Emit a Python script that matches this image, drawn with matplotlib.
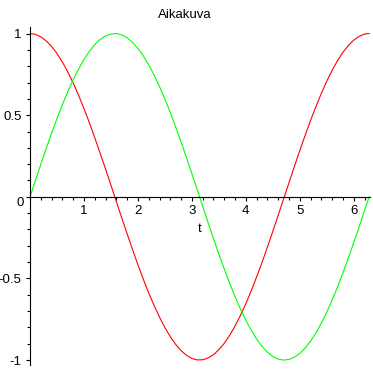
import numpy as np
import matplotlib
matplotlib.use('Agg')
import matplotlib.pyplot as plt
from matplotlib.ticker import MultipleLocator

plt.rcParams['font.family'] = ['Liberation Sans', 'DejaVu Sans']

title = 'Aikakuva'
xlabel = 't'

# values
t = [0.0, 0.1, 0.2, 0.3, 0.4, 0.5, 0.6, 0.7, 0.8, 0.9,
     1.0, 1.1, 1.2, 1.3, 1.4, 1.5, 1.6, 1.7, 1.8, 1.9,
     2.0, 2.1, 2.2, 2.3, 2.4, 2.5, 2.6, 2.7, 2.8, 2.9,
     3.0, 3.1, 3.2, 3.3, 3.4, 3.5, 3.6, 3.7, 3.8, 3.9,
     4.0, 4.1, 4.2, 4.3, 4.4, 4.5, 4.6, 4.7, 4.8, 4.9,
     5.0, 5.1, 5.2, 5.3, 5.4, 5.5, 5.6, 5.7, 5.8, 5.9,
     6.0, 6.1, 6.2, 6.283]

red_curve = [1.000, 0.995, 0.980, 0.955, 0.921, 0.878, 0.825, 0.765, 0.697, 0.622,
             0.540, 0.454, 0.362, 0.267, 0.170, 0.071, -0.029, -0.129, -0.227, -0.323,
             -0.416, -0.505, -0.589, -0.666, -0.737, -0.801, -0.857, -0.904, -0.942, -0.971,
             -0.990, -0.999, -0.998, -0.987, -0.967, -0.936, -0.897, -0.848, -0.791, -0.726,
             -0.654, -0.575, -0.490, -0.401, -0.307, -0.211, -0.112, -0.012, 0.087, 0.187,
             0.284, 0.378, 0.469, 0.554, 0.635, 0.709, 0.776, 0.835, 0.886, 0.927,
             0.960, 0.983, 0.997, 1.000]

green_curve = [0.000, 0.100, 0.199, 0.296, 0.389, 0.479, 0.565, 0.644, 0.717, 0.783,
               0.841, 0.891, 0.932, 0.964, 0.985, 0.997, 1.000, 0.992, 0.974, 0.946,
               0.909, 0.863, 0.808, 0.746, 0.675, 0.598, 0.516, 0.427, 0.335, 0.239,
               0.141, 0.042, -0.058, -0.158, -0.256, -0.351, -0.443, -0.530, -0.612, -0.688,
               -0.757, -0.818, -0.872, -0.916, -0.952, -0.978, -0.994, -1.000, -0.996, -0.982,
               -0.959, -0.926, -0.883, -0.832, -0.773, -0.706, -0.631, -0.551, -0.465, -0.374,
               -0.279, -0.182, -0.083, 0.000]

xticks = [1, 2, 3, 4, 5, 6]
yticks = [1, 0.5, 0, -0.5, -1]
ytick_labels = ['1', '0.5', '', '-0.5', '-1']

fig = plt.figure(figsize=(3.73, 3.73), dpi=100)
ax = fig.add_axes([30 / 373, 8 / 373, 340 / 373, 338 / 373])

ax.plot(t, red_curve, color='#ff0000', linewidth=0.8)
ax.plot(t, green_curve, color='#00ff00', linewidth=0.8)

ax.set_xlim(0, 6.3)
ax.set_ylim(-1.03, 1.04)

ax.spines['top'].set_visible(False)
ax.spines['right'].set_visible(False)
ax.spines['bottom'].set_position(('data', 0))
ax.spines['left'].set_position(('data', 0))
for s in ('bottom', 'left'):
    ax.spines[s].set_linewidth(0.8)

ax.set_xticks(xticks)
ax.set_yticks(yticks, ytick_labels)
ax.xaxis.set_minor_locator(MultipleLocator(0.2))
ax.yaxis.set_minor_locator(MultipleLocator(0.1))
ax.tick_params(which='major', direction='out', length=3, width=0.8, labelsize=9.5, pad=3)
ax.tick_params(which='minor', direction='out', length=2, width=0.8)

# zero label sits a little below the horizontal axis
ax.text(-0.12, 0, '0', ha='right', va='top', fontsize=9.5)
ax.text(3.15, -0.2, xlabel, ha='center', va='center', fontsize=9.5)
fig.text(185 / 373, 1 - 15 / 373, title, ha='center', va='center', fontsize=9.5)

fig.savefig('out.png', dpi=100)
